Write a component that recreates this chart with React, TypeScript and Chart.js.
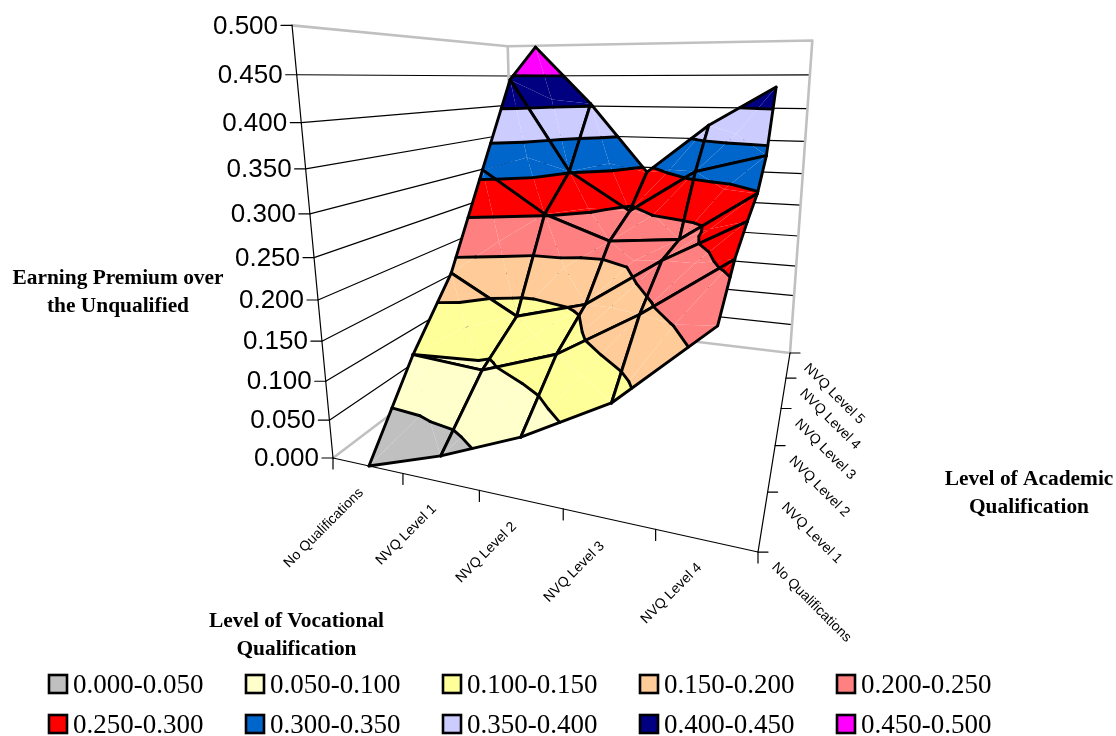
import React, { useEffect, useRef } from "react";
import { Chart, registerables } from "chart.js";

Chart.register(...registerables);

const vocationalLevels = ["No Qualifications", "NVQ Level 1", "NVQ Level 2", "NVQ Level 3", "NVQ Level 4"];
const academicLevels = ["No Qualifications", "NVQ Level 1", "NVQ Level 2", "NVQ Level 3", "NVQ Level 4", "NVQ Level 5"];

// Earning premium; one array per academic level, across vocational levels
const academicNone = [0.0, 0.033, 0.075, 0.131, 0.224];
const academicNvq1 = [0.1, 0.093, 0.128, 0.189, 0.261];
const academicNvq2 = [0.181, 0.129, 0.157, 0.225, 0.281];
const academicNvq3 = [0.313, 0.252, 0.219, 0.229, 0.298];
const academicNvq4 = [0.444, 0.302, 0.244, 0.31, 0.337];
const academicNvq5 = [0.498, 0.404, 0.292, 0.372, 0.432];
const premiumGrid = [academicNone, academicNvq1, academicNvq2, academicNvq3, academicNvq4, academicNvq5];

const zTicks = ["0.000", "0.050", "0.100", "0.150", "0.200", "0.250", "0.300", "0.350", "0.400", "0.450", "0.500"];
const bandLabels = [
  "0.000-0.050", "0.050-0.100", "0.100-0.150", "0.150-0.200", "0.200-0.250",
  "0.250-0.300", "0.300-0.350", "0.350-0.400", "0.400-0.450", "0.450-0.500",
];
const bandColors = ["#C0C0C0", "#FFFFCC", "#FFFF99", "#FFCC99", "#FF8080", "#FF0000", "#0066CC", "#CCCCFF", "#000080", "#FF00FF"];

const STEP = 0.05;
const ZMAX = 0.5;

type V3 = { u: number; v: number; z: number };
type P = { x: number; y: number };

// camera of the 3-D box (floor homography + vertical vanishing point)
function project(u: number, v: number, z: number): P {
  const k = -0.137 * (z / ZMAX);
  const w = 1 - 0.212 * u + 0.5701 * v + k;
  const x = 264.3 * u + 475.6 * v + 333 + k * 591;
  const y = -23 * u + 44.4 * v + 458 + k * 3183;
  return { x: x / w, y: y / w + 5 * (z / ZMAX) * u };
}
const pv = (p: V3) => project(p.u, p.v, p.z);
const depth = (u: number, v: number) => 1 - 0.212 * u + 0.5701 * v;

function clipBand(poly: V3[], level: number, keepAbove: boolean): V3[] {
  const out: V3[] = [];
  for (let i = 0; i < poly.length; i++) {
    const a = poly[i];
    const b = poly[(i + 1) % poly.length];
    const ain = keepAbove ? a.z >= level : a.z <= level;
    const bin = keepAbove ? b.z >= level : b.z <= level;
    if (ain) out.push(a);
    if (ain !== bin) {
      const t = (level - a.z) / (b.z - a.z);
      out.push({ u: a.u + (b.u - a.u) * t, v: a.v + (b.v - a.v) * t, z: level });
    }
  }
  return out;
}

function App() {
  const ref = useRef<HTMLCanvasElement | null>(null);
  useEffect(() => {
    const ds: any[] = [];
    const line = (pts: P[], color: string, width: number) =>
      ds.push({
        data: pts,
        showLine: true,
        borderColor: color,
        borderWidth: width,
        pointRadius: 0,
        fill: false,
        clip: false,
        tension: 0,
        borderCapStyle: "round",
        borderJoinStyle: "round",
      });
    const shape = (pts: P[], color: string) =>
      ds.push({
        data: [...pts, pts[0]],
        showLine: true,
        borderWidth: 0,
        borderColor: color,
        backgroundColor: color,
        pointRadius: 0,
        fill: "shape",
        clip: false,
        tension: 0,
      });

    // walls
    zTicks.forEach((_, n) => {
      const z = n * STEP;
      if (n > 0 && n < zTicks.length - 1) line([project(0, 0, z), project(0, 1, z), project(1, 1, z)], "#000", 1.2);
    });
    const grey = "#C0C0C0";
    line([project(0, 0, ZMAX), project(0, 1, ZMAX), project(1, 1, ZMAX), project(1, 1, 0), project(0, 1, 0), project(0, 0, 0)], grey, 2.6);
    line([project(0, 1, 0), project(0, 1, ZMAX)], grey, 2.6);

    // axes
    line([project(0, 0, 0), project(0, 0, ZMAX)], "#000", 1.2);
    line([project(0, 0, 0), project(1, 0, 0), project(1, 1, 0)], "#000", 1.2);
    zTicks.forEach((_, n) => {
      const p = project(0, 0, n * STEP);
      line([{ x: p.x - 11, y: p.y }, p], "#000", 1.2);
    });
    for (let n = 0; n <= vocationalLevels.length; n++) {
      const p = project(n / vocationalLevels.length, 0, 0);
      line([p, { x: p.x, y: p.y + 11 }], "#000", 1.2);
    }
    for (let n = 0; n < academicLevels.length; n++) {
      const p = project(1, n / (academicLevels.length - 1), 0);
      line([p, { x: p.x + 10, y: p.y }], "#000", 1.2);
    }

    // surface
    const nu = vocationalLevels.length;
    const nv = academicLevels.length;
    const node = (i: number, j: number): V3 => ({ u: (i + 0.5) / nu + 0.005, v: j / (nv - 1), z: premiumGrid[j][i] });
    const cells: { i: number; j: number; d: number }[] = [];
    for (let j = 0; j < nv - 1; j++)
      for (let i = 0; i < nu - 1; i++)
        cells.push({ i, j, d: depth((i + 1) / nu, (j + 0.5) / (nv - 1)) });
    cells.sort((a, b) => b.d - a.d);

    cells.forEach(({ i, j }) => {
      const q = [node(i, j), node(i + 1, j), node(i + 1, j + 1), node(i, j + 1)];
      const c: V3 = {
        u: (q[0].u + q[1].u) / 2,
        v: (q[0].v + q[3].v) / 2,
        z: (q[0].z + q[1].z + q[2].z + q[3].z) / 4,
      };
      const tris = q.map((a, n) => [a, q[(n + 1) % 4], c]);
      const segs: P[][] = [];
      tris.forEach((tri) => {
        bandColors.forEach((color, b) => {
          let poly = clipBand(tri, b * STEP, true);
          if (poly.length) poly = clipBand(poly, (b + 1) * STEP, false);
          if (poly.length >= 3) shape(poly.map(pv), color);
        });
        for (let l = 1; l < bandColors.length; l++) {
          const level = l * STEP;
          const pts: P[] = [];
          tri.forEach((a, n) => {
            const b = tri[(n + 1) % 3];
            if (a.z < level !== b.z < level) {
              const t = (level - a.z) / (b.z - a.z);
              pts.push(project(a.u + (b.u - a.u) * t, a.v + (b.v - a.v) * t, level));
            }
          });
          if (pts.length === 2) segs.push(pts);
        }
      });
      segs.forEach((s) => line(s, "#000", 2.9));
      q.forEach((a, n) => line([pv(a), pv(q[(n + 1) % 4])], "#000", 2.9));
    });

    const textPlugin = {
      id: "boxText",
      afterDraw(chart: any) {
        const ctx = chart.ctx;
        ctx.save();
        ctx.fillStyle = "#000";
        // value axis
        ctx.font = '26px "Liberation Sans"';
        ctx.textAlign = "right";
        ctx.textBaseline = "middle";
        zTicks.forEach((t, n) => {
          const p = project(0, 0, n * STEP);
          ctx.fillText(t, p.x - 14, p.y + 1);
        });
        // category axes
        ctx.font = '14px "Liberation Sans"';
        vocationalLevels.forEach((t, n) => {
          const p = project((n + 0.5) / nu, 0, 0);
          ctx.save();
          ctx.translate(p.x - 6, p.y + 25);
          ctx.rotate(-Math.PI / 4);
          ctx.textAlign = "right";
          ctx.fillText(t, 0, 0);
          ctx.restore();
        });
        academicLevels.forEach((t, n) => {
          const p = project(1, n / (nv - 1), 0);
          ctx.save();
          ctx.translate(p.x + 16, p.y + 13);
          ctx.rotate(Math.PI / 4);
          ctx.textAlign = "left";
          ctx.fillText(t, 0, 0);
          ctx.restore();
        });
        // axis titles
        ctx.font = 'bold 21.4px "Liberation Serif"';
        ctx.textAlign = "center";
        ctx.fillText("Earning Premium over", 118, 278);
        ctx.fillText("the Unqualified", 118, 306);
        ctx.fillText("Level of Academic", 1029, 479);
        ctx.fillText("Qualification", 1029, 507);
        ctx.fillText("Level of Vocational", 296.5, 621);
        ctx.fillText("Qualification", 296.5, 649);
        // legend
        ctx.font = '27px "Liberation Serif"';
        ctx.textAlign = "left";
        bandLabels.forEach((t, n) => {
          const col = n % 5;
          const row = Math.floor(n / 5);
          const bx = 49 + col * 197;
          const cy = 684 + row * 40;
          ctx.fillStyle = bandColors[n];
          ctx.fillRect(bx, cy - 9, 18, 18);
          ctx.strokeStyle = "#000";
          ctx.lineWidth = 2.6;
          ctx.strokeRect(bx, cy - 9, 18, 18);
          ctx.fillStyle = "#000";
          ctx.fillText(t, bx + 24, cy + 2);
        });
        ctx.restore();
      },
    };

    const chart = new Chart(ref.current as HTMLCanvasElement, {
      type: "scatter",
      data: { datasets: ds.slice().reverse() },
      options: {
        animation: false,
        responsive: false,
        layout: { padding: 0 },
        scales: {
          x: { type: "linear", min: 0, max: 1116, display: false },
          y: { type: "linear", min: 0, max: 736, reverse: true, display: false },
        },
        plugins: { legend: { display: false }, tooltip: { enabled: false } },
        events: [],
      },
      plugins: [textPlugin],
    } as any);
    return () => chart.destroy();
  }, []);
  return (
    <div style={{ position: "absolute", left: 0, top: 0, width: 1116, height: 736, background: "#fff" }}>
      <canvas ref={ref} width={1116} height={736} style={{ display: "block" }} />
    </div>
  );
}

export default App;
